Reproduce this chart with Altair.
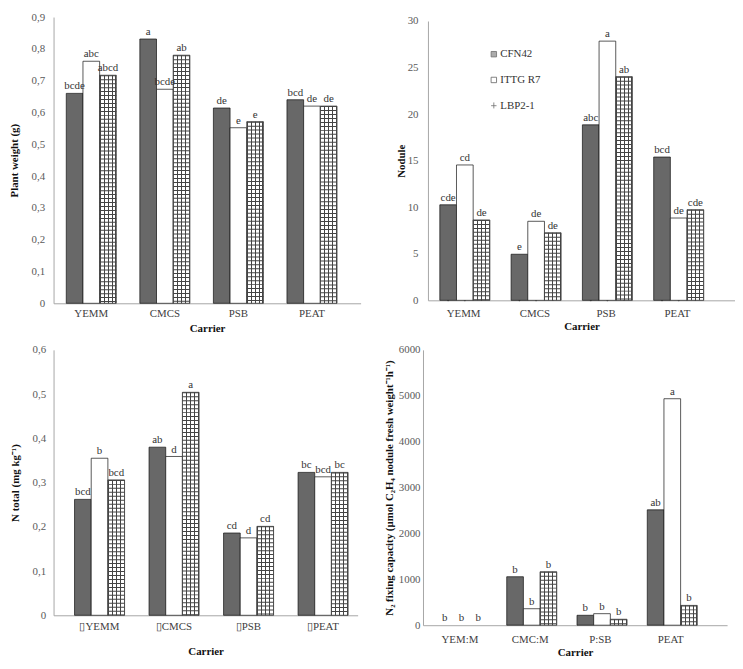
import altair as alt
import pandas as pd

series = ["CFN42", "ITTG R7", "LBP2-1"]

# Panel A: plant weight
pw_carriers = ["YEMM", "CMCS", "PSB", "PEAT"]
pw_cfn42 = [0.66, 0.831, 0.614, 0.64]
pw_ittg = [0.761, 0.673, 0.552, 0.62]
pw_lbp = [0.717, 0.78, 0.571, 0.62]
pw_let_cfn42 = ["bcde", "a", "de", "bcd"]
pw_let_ittg = ["abc", "bcde", "e", "de"]
pw_let_lbp = ["abcd", "ab", "e", "de"]
pw_ticks = [0, 0.1, 0.2, 0.3, 0.4, 0.5, 0.6, 0.7, 0.8, 0.9]

# Panel B: nodules
nd_carriers = ["YEMM", "CMCS", "PSB", "PEAT"]
nd_cfn42 = [10.26, 4.95, 18.85, 15.39]
nd_ittg = [14.54, 8.49, 27.84, 8.84]
nd_lbp = [8.63, 7.25, 24.02, 9.73]
nd_let_cfn42 = ["cde", "e", "abc", "bcd"]
nd_let_ittg = ["cd", "de", "a", "de"]
nd_let_lbp = ["de", "de", "ab", "cde"]
nd_ticks = [0, 5, 10, 15, 20, 25, 30]

# Panel C: N total
nt_carriers = ["\u25afYEMM", "\u25afCMCS", "\u25afPSB", "\u25afPEAT"]
nt_cfn42 = [0.262, 0.38, 0.186, 0.323]
nt_ittg = [0.355, 0.359, 0.175, 0.313]
nt_lbp = [0.306, 0.504, 0.201, 0.323]
nt_let_cfn42 = ["bcd", "ab", "cd", "bc"]
nt_let_ittg = ["b", "d", "d", "bcd"]
nt_let_lbp = ["bcd", "a", "cd", "bc"]
nt_ticks = [0, 0.1, 0.2, 0.3, 0.4, 0.5, 0.6]

# Panel D: N2 fixing capacity
nf_carriers = ["YEM:M", "CMC:M", "P:SB", "PEAT"]
nf_cfn42 = [0, 1056, 216, 2514]
nf_ittg = [0, 359, 251, 4935]
nf_lbp = [0, 1164, 129, 431]
nf_let_cfn42 = ["b", "b", "b", "ab"]
nf_let_ittg = ["b", "b", "b", "a"]
nf_let_lbp = ["b", "b", "b", "b"]
nf_ticks = [0, 1000, 2000, 3000, 4000, 5000, 6000]

SERIF = "Liberation Serif"
INK = "#444444"
CLEAR = "rgba(0,0,0,0)"


def vstripes():
    stops = []
    w = 0.06
    for p in [0.0, 0.24, 0.48, 0.72, 0.94]:
        stops += [
            {"offset": p, "color": CLEAR},
            {"offset": p, "color": INK},
            {"offset": min(p + w, 1.0), "color": INK},
            {"offset": min(p + w, 1.0), "color": CLEAR},
        ]
    return {"gradient": "linear", "x1": 0, "y1": 0, "x2": 1, "y2": 0, "stops": stops}


def panel(carriers, vals, lets, ticks, ytitle, comma, W, H, pi, po, align,
          ylp, ytp, xlp, xtp, top_gap=0, legend=False):
    rows = []
    for s, v, l in zip(series, vals, lets):
        for c, vv, ll in zip(carriers, v, l):
            rows.append({"carrier": c, "series": s, "value": vv, "letter": ll})
    df = pd.DataFrame(rows)
    step = W / (4 - pi + 2 * po)
    bw = step * (1 - pi) / 3

    if comma:
        lexpr = "datum.value == 0 ? '0' : replace(format(datum.value, '.1f'), '.', ',')"
    else:
        lexpr = "format(datum.value, 'd')"

    x = alt.X("carrier:N", sort=carriers,
              scale=alt.Scale(paddingInner=pi, paddingOuter=po, align=align),
              axis=alt.Axis(title="Carrier", labelAngle=0, labelPadding=xlp,
                            titlePadding=xtp, labelColor="#404040"))
    xo = alt.XOffset("series:N", sort=series,
                     scale=alt.Scale(domain=series, paddingInner=0, paddingOuter=0))
    yscale = alt.Scale(domain=[ticks[0], ticks[-1]], nice=False)
    if top_gap:
        yscale = alt.Scale(domain=[ticks[0], ticks[-1]], nice=False, range=[H, top_gap])
    y = alt.Y("value:Q", scale=yscale,
              axis=alt.Axis(title=ytitle, values=ticks, labelExpr=lexpr,
                            labelPadding=ylp, titlePadding=ytp))

    base = alt.Chart(df)
    bars = base.mark_bar(stroke="#111", strokeWidth=0.7).encode(
        x=x, xOffset=xo, y=y,
        color=alt.Color("series:N",
                        scale=alt.Scale(domain=series, range=["#686868", "#ffffff", "#ffffff"]),
                        legend=None),
        strokeOpacity=alt.condition(alt.datum.value > 0, alt.value(1), alt.value(0)),
    )
    lbp = base.transform_filter(alt.datum.series == "LBP2-1")
    vlines = lbp.mark_bar(fill=vstripes(), strokeWidth=0).encode(x=x, xOffset=xo, y=y)
    hlines = lbp.mark_rule(strokeWidth=bw, strokeDash=[1, 3], color=INK).encode(
        x=x, xOffset=xo, y=y, y2=alt.datum(0))
    text = base.mark_text(baseline="bottom", dy=-2, font=SERIF, fontSize=11,
                          color="#333").encode(x=x, xOffset=xo, y=y, text="letter:N")
    layers = [bars, vlines, hlines, text]
    if legend:
        leg = alt.Legend(title=None, orient="none", legendX=61, legendY=32,
                         direction="vertical", rowPadding=14, symbolSize=30,
                         symbolStrokeWidth=0.8,
                         labelFont=SERIF, labelFontSize=11, labelColor="#333",
                         labelOffset=1)
        pts = base.mark_point(filled=True, size=1, strokeWidth=0.8).encode(
            x=x, xOffset=xo, y=alt.datum(0),
            fill=alt.Fill("series:N", sort=series,
                          scale=alt.Scale(domain=series, range=["#555555", "#ffffff", "#555555"]),
                          legend=leg),
            stroke=alt.Stroke("series:N", sort=series,
                              scale=alt.Scale(domain=series, range=["#333333", "#222222", "#333333"]),
                              legend=leg),
            shape=alt.Shape("series:N", sort=series,
                            scale=alt.Scale(domain=series,
                                            range=["square", "square", "M-1,0H1M0,-1.2V1"]),
                            legend=leg),
        )
        layers = [pts] + layers
    return alt.layer(*layers).properties(width=W, height=H)


tl = panel(pw_carriers, [pw_cfn42, pw_ittg, pw_lbp],
           [pw_let_cfn42, pw_let_ittg, pw_let_lbp], pw_ticks,
           "Plant weight (g)", True, 310, 289, 0.32, 0.247, 0.35,
           9, 12, 4, 4)
tr = panel(nd_carriers, [nd_cfn42, nd_ittg, nd_lbp],
           [nd_let_cfn42, nd_let_ittg, nd_let_lbp], nd_ticks,
           "Nodule", False, 310, 286, 0.333, 0.32, 0.26,
           10, 1, 7, 2, top_gap=4, legend=True)
bl = panel(nt_carriers, [nt_cfn42, nt_ittg, nt_lbp],
           [nt_let_cfn42, nt_let_ittg, nt_let_lbp], nt_ticks,
           "N total  (mg  kg\u207b\u00b9)", True, 307, 268, 0.333, 0.207, 0.68,
           8, 12, 5, 15)
br = panel(nf_carriers, [nf_cfn42, nf_ittg, nf_lbp],
           [nf_let_cfn42, nf_let_ittg, nf_let_lbp], nf_ticks,
           "N\u2082 fixing capacity (\u00b5mol C\u2082H\u2084 nodule fresh weight\u207b\u00b9h\u207b\u00b9)",
           False, 307, 278, 0.333, 0.33, 0.29,
           3, 4, 8, 3)

top = alt.hconcat(tl, tr, spacing=35).resolve_legend(
    fill="independent", shape="independent", stroke="independent")
bottom = alt.hconcat(bl, br, spacing=25)

chart = alt.vconcat(top, bottom, spacing=11).resolve_legend(
    fill="independent", shape="independent", stroke="independent"
).properties(
    padding={"left": 0, "top": 0, "right": 0, "bottom": 0}
).configure_view(stroke=None).configure_axis(
    domainColor="#a6a6a6", domainWidth=1, ticks=False, grid=False,
    labelFont=SERIF, labelFontSize=11, labelColor="#595959",
    titleFont=SERIF, titleFontSize=11, titleFontWeight="bold", titleColor="#111",
)

chart.save("out.html", embed_options={"renderer": "svg", "actions": False})
